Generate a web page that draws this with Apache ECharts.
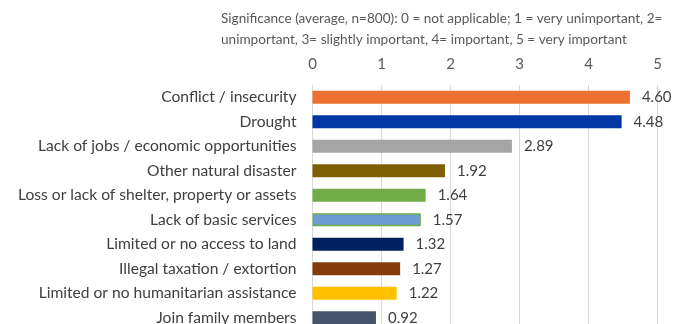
<!DOCTYPE html>
<html>
<head>
<meta charset="utf-8">
<script src="https://cdn.jsdelivr.net/npm/echarts@6/dist/echarts.min.js"></script>
<style>
  html, body { margin: 0; padding: 0; background: #fff; }
  #chart { width: 691px; height: 324px; }
</style>
</head>
<body>
<div id="chart"></div>
<script>
// Reasons for displacement, ranked by average significance (0–5 scale)
const categories = [
  'Conflict / insecurity',
  'Drought',
  'Lack of jobs / economic opportunities',
  'Other natural disaster',
  'Loss or lack of shelter, property or assets',
  'Lack of basic services',
  'Limited or no access to land',
  'Illegal taxation / extortion',
  'Limited or no humanitarian assistance',
  'Join family members'
];
const values = [4.60, 4.48, 2.89, 1.92, 1.64, 1.57, 1.32, 1.27, 1.22, 0.92];
const barColors = ['#EC7130', '#0037A5', '#A5A5A5', '#7F6000', '#70AD47',
                   '#6E9BD4', '#002060', '#843C0C', '#FFC000', '#44546A'];
const borderColors = [null, null, null, null, null, '#70AD47', null, null, null, null];
const xTicks = [0, 1, 2, 3, 4, 5];
const subtitle = 'Significance (average, n=800): 0 = not applicable; 1 = very unimportant, 2=\nunimportant, 3= slightly important, 4= important, 5 = very important';

const FONT = 'Lato, "Open Sans", sans-serif';

const chart = echarts.init(document.getElementById('chart'), null, { renderer: 'canvas' });

chart.setOption({
  animation: false,
  backgroundColor: '#ffffff',
  title: {
    text: subtitle,
    left: 221,
    top: 8,
    padding: 0,
    textStyle: {
      fontFamily: FONT,
      fontSize: 13.6,
      fontWeight: 'normal',
      color: '#595959',
      lineHeight: 21
    }
  },
  grid: {
    left: 312.5,
    right: 33.5,
    top: 85,
    height: 245,
    outerBoundsMode: 'none',
    containLabel: false
  },
  xAxis: {
    type: 'value',
    position: 'top',
    min: xTicks[0],
    max: xTicks[xTicks.length - 1],
    interval: 1,
    axisLine: { show: false },
    axisTick: { show: false },
    axisLabel: {
      margin: 13,
      fontFamily: FONT,
      fontSize: 15,
      color: '#595959'
    },
    splitLine: { show: true, lineStyle: { color: '#D9D9D9', width: 1 } }
  },
  yAxis: {
    type: 'category',
    inverse: true,
    data: categories,
    axisLine: { show: true, lineStyle: { color: '#D9D9D9' } },
    axisTick: { show: false },
    axisLabel: {
      margin: 16,
      fontFamily: FONT,
      fontSize: 15.6,
      color: '#404040'
    }
  },
  series: [{
    type: 'bar',
    barWidth: 13,
    data: values.map((v, i) => ({
      value: v,
      itemStyle: borderColors[i]
        ? { color: barColors[i], borderColor: borderColors[i], borderWidth: 1.5 }
        : { color: barColors[i] }
    })),
    label: {
      show: true,
      position: 'right',
      distance: 12,
      formatter: p => p.value.toFixed(2),
      fontFamily: FONT,
      fontSize: 15,
      color: '#404040'
    }
  }]
});
</script>
</body>
</html>
